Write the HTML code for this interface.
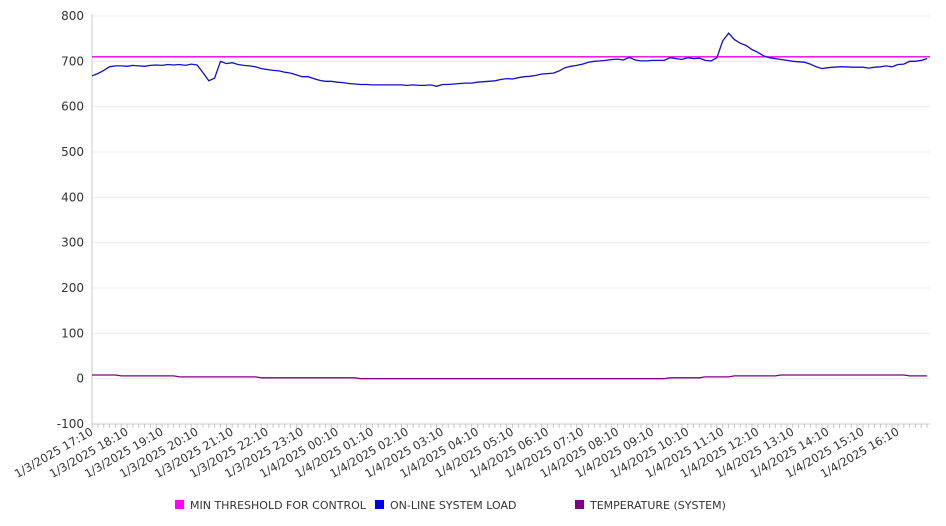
<!DOCTYPE html>
<html><head><meta charset="utf-8"><style>
body{margin:0;background:#fff;}
svg{display:block;font-family:"DejaVu Sans","Liberation Sans",sans-serif;}
</style></head><body>
<svg id="chart" width="946" height="526" xmlns="http://www.w3.org/2000/svg"></svg>
<script>
const yTicks=[800,700,600,500,400,300,200,100,0,-100];
const xLabels=["1/3/2025 17:10","1/3/2025 18:10","1/3/2025 19:10","1/3/2025 20:10","1/3/2025 21:10","1/3/2025 22:10","1/3/2025 23:10","1/4/2025 00:10","1/4/2025 01:10","1/4/2025 02:10","1/4/2025 03:10","1/4/2025 04:10","1/4/2025 05:10","1/4/2025 06:10","1/4/2025 07:10","1/4/2025 08:10","1/4/2025 09:10","1/4/2025 10:10","1/4/2025 11:10","1/4/2025 12:10","1/4/2025 13:10","1/4/2025 14:10","1/4/2025 15:10","1/4/2025 16:10"];
const threshold=710;
const load=[668,673,680,688,690,690,689,691,690,689,691,692,691,693,692,693,691,694,692,675,657,663,700,695,697,693,691,690,688,684,682,680,679,676,674,670,666,666,662,658,656,656,654,653,651,650,649,649,648,648,648,648,648,648,647,648,647,647,648,645,649,649,650,651,652,652,654,655,656,657,660,662,661,664,666,667,669,672,673,674,679,686,689,691,694,698,700,701,702,704,705,703,709,703,701,701,702,702,702,708,706,704,708,706,707,702,701,708,745,762,748,740,735,726,720,712,708,706,704,702,700,699,698,694,688,684,686,687,688,688,687,687,687,685,687,688,690,688,693,694,700,700,702,706];
const temp=[8,8,8,8,8,6,6,6,6,6,6,6,6,6,6,4,4,4,4,4,4,4,4,4,4,4,4,4,4,2,2,2,2,2,2,2,2,2,2,2,2,2,2,2,2,2,0,0,0,0,0,0,0,0,0,0,0,0,0,0,0,0,0,0,0,0,0,0,0,0,0,0,0,0,0,0,0,0,0,0,0,0,0,0,0,0,0,0,0,0,0,0,0,0,0,0,0,0,0,2,2,2,2,2,2,4,4,4,4,4,6,6,6,6,6,6,6,6,8,8,8,8,8,8,8,8,8,8,8,8,8,8,8,8,8,8,8,8,8,8,6,6,6,6];

const NS="http://www.w3.org/2000/svg";
const svg=document.getElementById('chart');
const X0=92,X1=930,Y0=16,Y1=424,YMAX=800,YMIN=-100,STEP=5.84;
const xAt=i=>X0+i*STEP;
const yAt=v=>Y0+(YMAX-v)/(YMAX-YMIN)*(Y1-Y0);
function el(t,a,p){const e=document.createElementNS(NS,t);for(const k in a)e.setAttribute(k,a[k]);(p||svg).appendChild(e);return e;}

const grid=el('g',{});


yTicks.forEach(v=>{
  const y=yAt(v);
  if(v!==YMIN){const l=el('line',{x1:X0,x2:X1,y1:y,y2:y,stroke:'#ebebeb','stroke-width':1},grid);
  
  }
  const t=el('text',{x:X0-8,y:y+4,'text-anchor':'end','font-size':12,fill:'#333'});
  t.textContent=v;
  
  
});
const ax=el('path',{d:`M${X0},${Y0-2}V${Y1}H${X1}`,fill:'none',stroke:'#c8c8c8','stroke-width':1});


let td='';
for(let i=0;i<load.length;i++){const x=xAt(i);td+=`M${x},${Y1}v4`;}
const ticks=el('path',{d:td,stroke:'#c8c8c8','stroke-width':1});


xLabels.forEach((s,k)=>{
  const x=xAt(k*6)+2,y=Y1+10;
  const t=el('text',{x:x,y:y,'text-anchor':'end','font-size':11.5,fill:'#333',transform:`rotate(-30 ${x} ${y})`});
  t.textContent=s;
  
  
});
const th=el('line',{x1:X0,x2:X1,y1:yAt(threshold),y2:yAt(threshold),stroke:'#e600e6','stroke-width':1.3});


function line(arr,color,name){
  const d=arr.map((v,i)=>(i?'L':'M')+xAt(i).toFixed(1)+','+yAt(v).toFixed(1)).join('');
  const p=el('path',{d:d,fill:'none',stroke:color,'stroke-width':1.3});
  
  
}
line(temp,'#800080','temperature-line');
line(load,'#1010c8','online-system-load-line');
const legend=[["MIN THRESHOLD FOR CONTROL","#ff00ff",175],["ON-LINE SYSTEM LOAD","#0000ee",375],["TEMPERATURE (SYSTEM)","#800080",575]];
legend.forEach(([s,c,x])=>{
  const g=el('g',{});
  
  
  el('rect',{x:x,y:500,width:9,height:9,fill:c},g);
  const t=el('text',{x:x+15,y:509,'font-size':11,fill:'#333'},g);
  t.textContent=s;
});
</script>
</body></html>
